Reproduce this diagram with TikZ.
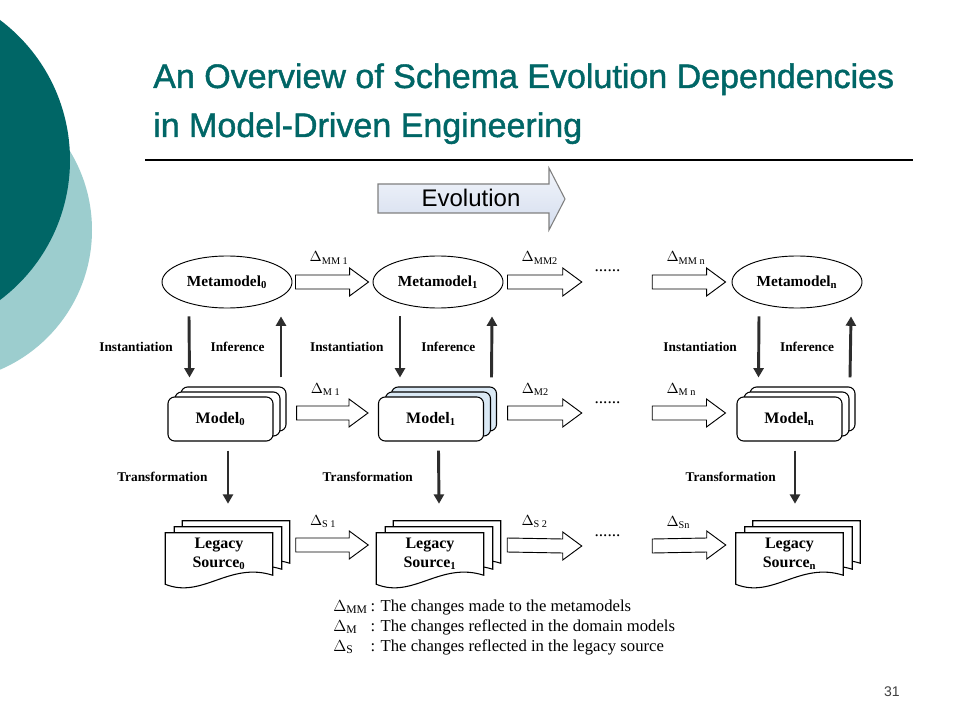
\documentclass[tikz,border=0pt]{standalone}
\usepackage{fontspec}
\setmainfont{Liberation Serif}
\newfontfamily\slidefont{Liberation Sans}
\newfontfamily\headfont[FakeBold=1.2]{Liberation Sans}
\usepackage{amsmath, amssymb}
\usetikzlibrary{calc, shapes, backgrounds, arrows.meta, shadows}

\definecolor{slideteal}{RGB}{0,102,102}
\definecolor{slidelight}{RGB}{156,205,206}
\definecolor{flowgray}{RGB}{45,45,45}
\definecolor{layerblue}{RGB}{218,233,245}
\definecolor{evotop}{RGB}{242,245,251}
\definecolor{evobottom}{RGB}{212,221,238}
\definecolor{evoedge}{RGB}{128,128,128}

% Порожниста стрілка: ім'я підпису, початок, кінець, підпис
\newcommand{\hollowarrow}[4]{%
  \draw[hollow] ($#2+(0,-7)$) -- ($#3+(-19,-7)$) -- ($#3+(-19,-14)$) -- ($#3$)
    -- ($#3+(-19,14)$) -- ($#3+(-19,7)$) -- ($#2+(0,7)$) -- cycle;
  \node[delta, anchor=base west] (#1) at ($#2+(14,-20)$) {#4};}

% Аркуш документа з хвилястим низом: вузол, зсув x, зсув y
\newcommand{\docpage}[3]{%
  \begin{scope}[on background layer]
    \draw[docline] ($(#1.north west)+(#2,#3)$) -- ($(#1.north east)+(#2,#3)$)
      -- ($(#1.south east)+(#2,#3)$)
      .. controls ($(#1.south west)+(#2,#3)+(64,-14)$) and ($(#1.south west)+(#2,#3)+(37,24)$)
      .. ($(#1.south west)+(#2,#3)+(0,9)$) -- cycle;
  \end{scope}}

\begin{document}
\begin{tikzpicture}[x=0.75pt, y=-0.75pt,
    metanode/.style={ellipse, draw, line width=0.7pt, fill=white,
      minimum width=97.5pt, minimum height=39pt, inner sep=0pt,
      font=\bfseries\fontsize{11.5}{13}\selectfont},
    modelnode/.style={rectangle, rounded corners=5pt, draw, line width=0.8pt, fill=white,
      minimum width=78.75pt, minimum height=33pt,
      font=\bfseries\fontsize{12}{14}\selectfont,
      general shadow={shadow xshift=9.75pt, shadow yshift=7.5pt, fill=#1, draw=black},
      general shadow={shadow xshift=5.25pt, shadow yshift=3.75pt, fill=#1, draw=black}},
    modelnode/.default=white,
    srcnode/.style={minimum width=80.25pt, minimum height=31.5pt, inner sep=0pt,
      align=center, font=\bfseries\fontsize{12}{14}\selectfont},
    docline/.style={draw, line width=0.8pt, fill=white},
    hollow/.style={draw, line width=0.7pt, fill=white},
    flow/.style={draw=flowgray, line width=2.2pt, -{Triangle[length=7pt, width=7.5pt]}},
    flowlabel/.style={font=\bfseries\fontsize{10}{12}\selectfont},
    delta/.style={inner sep=0pt, font=\fontsize{11}{13}\selectfont},
    dotsnode/.style={inner sep=0pt, font=\fontsize{13}{15}\selectfont},
    titletext/.style={inner sep=0pt, text=slideteal, font=\headfont\fontsize{25.5}{30}\selectfont}]
  \useasboundingbox (0,0) rectangle (960,720);

  % Тло слайда і два кола ліворуч
  \begin{scope}[on background layer]
    \fill[white] (0,0) rectangle (960,720);
    \clip (0,0) rectangle (960,720);
    \fill[slidelight] (-60,230) circle (152);
    \fill[slideteal] (-105,160) circle (175);
  \end{scope}

  % Заголовок
  \node[titletext, anchor=base west] (title1) at (153,88) {An Overview of Schema Evolution Dependencies};
  \node[titletext, anchor=base west] (title2) at (153,137) {in Model-Driven Engineering};
  \draw[line width=0.8pt] (145,160) -- (913,160);

  % Стрілка еволюції
  \path[draw=evoedge, line width=0.8pt, top color=evotop, bottom color=evobottom]
    (378,184) -- (549,184) -- (549,168) -- (565,199) -- (549,230) -- (549,213) -- (378,213) -- cycle;
  \node[font=\slidefont\fontsize{18}{20}\selectfont] (evolution) at (471,198) {Evolution};

  % Метамоделі
  \node[metanode] (meta0) at (227,282) {Metamodel\textsubscript{0}};
  \node[metanode] (meta1) at (438,282) {Metamodel\textsubscript{1}};
  \node[metanode] (metan) at (797,282) {Metamodel\textsubscript{n}};

  % Моделі (стоси)
  \node[modelnode] (model0) at (220.5,419) {Model\textsubscript{0}};
  \node[modelnode=layerblue] (model1) at (431,419) {Model\textsubscript{1}};
  \node[modelnode] (modeln) at (789.5,419) {Model\textsubscript{n}};

  % Успадкований код (стоси аркушів)
  \node[srcnode] (src0) at (219,554) {Legacy\\Source\textsubscript{0}};
  \node[srcnode] (src1) at (430,554) {Legacy\\Source\textsubscript{1}};
  \node[srcnode] (srcn) at (789.5,554) {Legacy\\Source\textsubscript{n}};
  \docpage{src0}{17}{-12} \docpage{src0}{9}{-6} \docpage{src0}{0}{0}
  \docpage{src1}{17}{-12} \docpage{src1}{9}{-6} \docpage{src1}{0}{0}
  \docpage{srcn}{17}{-12} \docpage{srcn}{9}{-6} \docpage{srcn}{0}{0}

  % Три крапки між кроками
  \node[dotsnode, anchor=base] (dotsmm) at (607.5,272) {......};
  \node[dotsnode, anchor=base] (dotsm) at (607.5,403) {......};
  \node[dotsnode, anchor=base] (dotss) at (607.5,536) {......};

  % Зміни метамоделей
  \hollowarrow{dmm1}{(meta0.east)+(3,0)}{(meta1.west)+(-4,0)}{$\Delta_{\text{MM 1}}$}
  \hollowarrow{dmm2}{(meta1.east)+(4,0)}{(dotsmm.base west)+(-12.5,10)}{$\Delta_{\text{MM2}}$}
  \hollowarrow{dmmn}{(dotsmm.base east)+(31.5,10)}{(metan.west)+(-6,0)}{$\Delta_{\text{MM n}}$}

  % Зміни моделей
  \hollowarrow{dm1}{(model0.east)+(23,-6)}{(model1.west)+(-10,-6)}{$\Delta_{\text{M 1}}$}
  \hollowarrow{dm2}{(model1.east)+(23.5,-6)}{(dotsm.base west)+(-12.5,10)}{$\Delta_{\text{M2}}$}
  \hollowarrow{dmn}{(dotsm.base east)+(31.5,10)}{(modeln.west)+(-11,-6)}{$\Delta_{\text{M n}}$}

  % Зміни коду
  \hollowarrow{ds1}{(src0.east)+(23,-9)}{(src1.west)+(-8,-9)}{$\Delta_{\text{S 1}}$}
  \hollowarrow{ds2}{(src1.east)+(23.5,-9)}{(dotss.base west)+(-12.5,10)}{$\Delta_{\text{S 2}}$}
  \hollowarrow{dsn}{(dotss.base east)+(31.5,10)}{(srcn.west)+(-10,-9)}{$\Delta_{\text{Sn}}$}

  % Інстанціювання та виведення
  \draw[flow] ($(meta0.south)+(-38,8)$) -- node[flowlabel, left=8pt] (inst0) {Instantiation} ($(model0.north)+(-31,-19)$);
  \draw[flow] ($(model0.north)+(60.5,-19)$) -- node[flowlabel, left=8pt] (infer0) {Inference} ($(meta0.south)+(54,8)$);
  \draw[flow] ($(meta1.south)+(-38,8)$) -- node[flowlabel, left=8pt] (inst1) {Instantiation} ($(model1.north)+(-31,-19)$);
  \draw[flow] ($(model1.north)+(60.5,-19)$) -- node[flowlabel, left=8pt] (infer1) {Inference} ($(meta1.south)+(54,8)$);
  \draw[flow] ($(metan.south)+(-38,8)$) -- node[flowlabel, left=12pt] (instn) {Instantiation} ($(modeln.north)+(-31,-19)$);
  \draw[flow] ($(modeln.north)+(60.5,-19)$) -- node[flowlabel, left=8pt] (infern) {Inference} ($(metan.south)+(54,8)$);

  % Перетворення
  \draw[flow] ($(model0.south)+(7.5,9)$) -- node[flowlabel, left=11pt] (trans0) {Transformation} ($(src0.north)+(9,-29)$);
  \draw[flow] ($(model1.south)+(7.5,9)$) -- node[flowlabel, left=15pt] (trans1) {Transformation} ($(src1.north)+(9,-29)$);
  \draw[flow] ($(modeln.south)+(5.5,9)$) -- node[flowlabel, left=10pt] (transn) {Transformation} ($(srcn.north)+(5.5,-29)$);

  % Легенда
  \node[inner sep=0pt, anchor=base west, font=\fontsize{12.5}{15}\selectfont] (legend) at (333,611) {%
    \begin{tabular}[t]{@{}l@{\,}l@{}}
      $\Delta_{\text{MM}}$ & : The changes made to the metamodels\\
      $\Delta_{\text{M}}$ & : The changes reflected in the domain models\\
      $\Delta_{\text{S}}$ & : The changes reflected in the legacy source
    \end{tabular}};

  % Номер слайда
  \node[inner sep=0pt, anchor=base east, text=darkgray, font=\slidefont\fontsize{10.5}{12}\selectfont] (pageno) at (900,696) {31};
\end{tikzpicture}
\end{document}
